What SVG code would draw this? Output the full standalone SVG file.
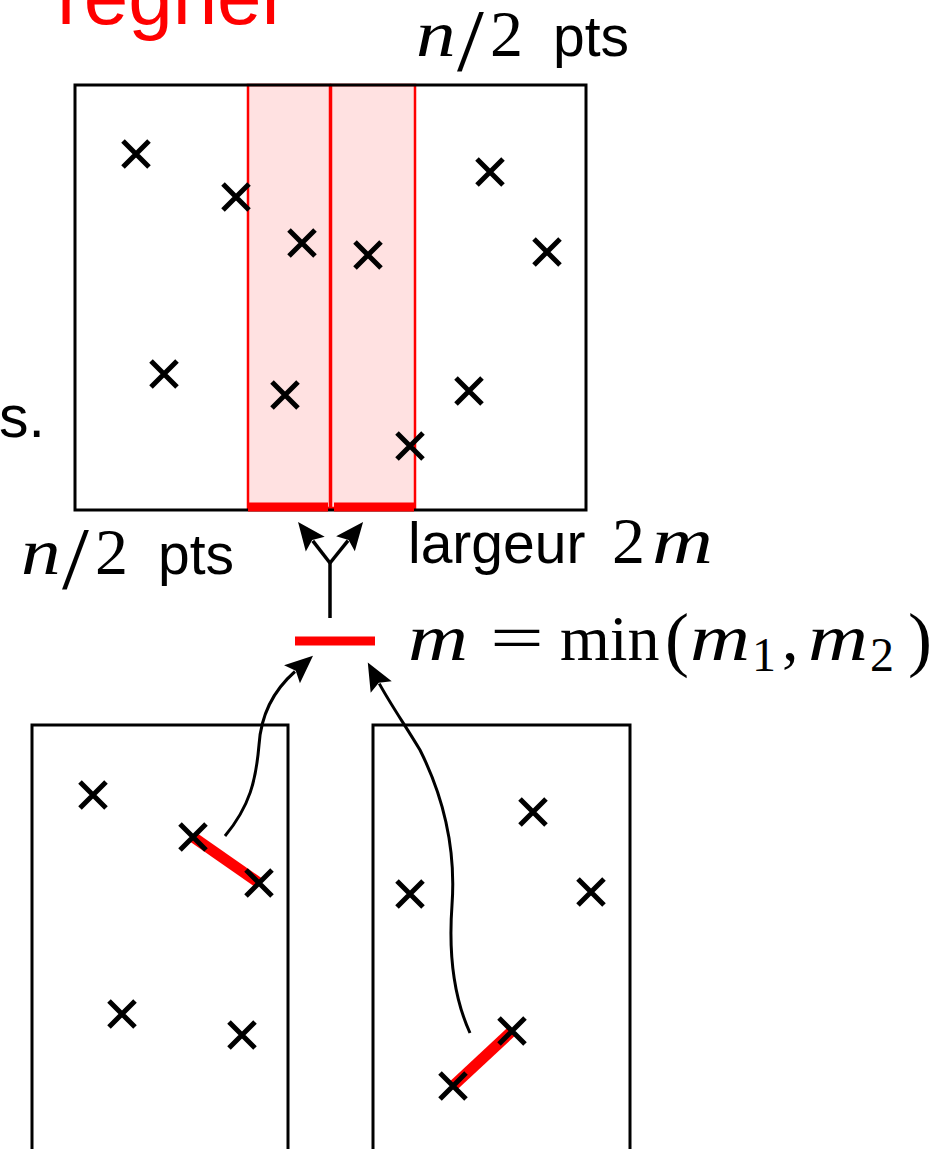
<svg xmlns="http://www.w3.org/2000/svg" width="939" height="1149" viewBox="0 0 939 1149">
<style>
.box{fill:none;stroke:#000;stroke-width:3}
.band{fill:#ffe1e1;stroke:#f00;stroke-width:2.5}
.bar{stroke:#f00;stroke-width:9;fill:none}
.pair{stroke:#f00;stroke-width:11;fill:none}
.cr{stroke:#000;stroke-width:5;fill:none}
.conn{stroke:#000;stroke-width:3;fill:none;marker-end:url(#ah)}
.sans{font-family:"Liberation Sans",Arial,sans-serif;font-size:57px;fill:#000}
.math{font-family:"Liberation Serif","Times New Roman",serif;font-size:66px;fill:#000}
.it{font-style:italic}
.sl{font-size:88px}
.sub{font-size:48px}
.par{font-size:72px}
.fn{font-size:64px}
.title{font-family:"Liberation Sans",Arial,sans-serif;font-size:80px;fill:#f00}
</style>
<defs>
<path id="x" d="M-13,-13L13,13M-13,13L13,-13"/>
<marker id="ah" markerUnits="userSpaceOnUse" viewBox="-6 -14 34 28" refX="0" refY="0" markerWidth="34" markerHeight="28" orient="auto">
<path d="M24,0 L-4,-12 L1,0 L-4,12 z" fill="#000"/>
</marker>
</defs>
<rect width="939" height="1149" fill="#fff"/>

<g id="title">
<text class="title" x="6" y="24" text-anchor="end">pour</text>
<text class="title" x="57" y="24">régner</text>
</g>

<g id="cut-text">
<text class="sans" x="-1" y="437" style="font-size:59px">s.</text>
</g>

<g id="top-set">
<rect class="band" x="248" y="85" width="82" height="423"/>
<rect class="band" x="331" y="85" width="84" height="423"/>
<rect class="box" x="75" y="85" width="511" height="425"/>
<line class="bar" x1="248" y1="507" x2="328" y2="507"/>
<line class="bar" x1="334" y1="507" x2="414" y2="507"/>
<g class="cr">
<use href="#x" x="136" y="154"/>
<use href="#x" x="236" y="197"/>
<use href="#x" x="302" y="243"/>
<use href="#x" x="368" y="255"/>
<use href="#x" x="490" y="172"/>
<use href="#x" x="547" y="252"/>
<use href="#x" x="164" y="374"/>
<use href="#x" x="285" y="395"/>
<use href="#x" x="469" y="391"/>
<use href="#x" x="410" y="446"/>
</g>
</g>

<g id="label-top">
<text class="math it" transform="translate(416,56) scale(1.2,1)">n</text>
<text class="math sl" transform="translate(457,70) scale(1.1,1)">/</text>
<text class="math" x="490" y="56">2</text>
<text class="sans" x="553" y="56">pts</text>
</g>

<g id="label-left">
<text class="math it" transform="translate(21,574) scale(1.2,1)">n</text>
<text class="math sl" transform="translate(62,588) scale(1.1,1)">/</text>
<text class="math" x="95" y="574">2</text>
<text class="sans" x="158" y="574">pts</text>
</g>

<g id="label-width">
<text class="sans" x="408" y="563">largeur</text>
<text class="math" x="612" y="563">2</text>
<text class="math it" transform="translate(652,563) scale(1.28,1)">m</text>
</g>

<g id="min-node">
<line class="bar" x1="295" y1="641" x2="375" y2="641"/>
<text class="math it" transform="translate(408,660) scale(1.26,1)">m</text>
<text class="math" transform="translate(490,660) scale(1.45,1)">=</text>
<text class="math fn" x="560" y="660">min</text>
<text class="math par" x="665" y="663">(</text>
<text class="math it" transform="translate(690,660) scale(1.26,1)">m</text>
<text class="math sub" x="752" y="671">1</text>
<text class="math" x="782" y="660">,</text>
<text class="math it" transform="translate(808,660) scale(1.26,1)">m</text>
<text class="math sub" x="870" y="671">2</text>
<text class="math par" x="908" y="663">)</text>
</g>

<g id="bottom-left">
<rect class="box" x="32" y="725" width="256" height="440"/>
<line class="pair" x1="193" y1="837" x2="259" y2="883"/>
<g class="cr">
<use href="#x" x="93" y="795"/>
<use href="#x" x="193" y="837"/>
<use href="#x" x="259" y="883"/>
<use href="#x" x="122" y="1014"/>
<use href="#x" x="242" y="1035"/>
</g>
</g>

<g id="bottom-right">
<rect class="box" x="373" y="725" width="257" height="440"/>
<line class="pair" x1="453" y1="1086" x2="512" y2="1031"/>
<g class="cr">
<use href="#x" x="533" y="812"/>
<use href="#x" x="410" y="894"/>
<use href="#x" x="591" y="892"/>
<use href="#x" x="512" y="1031"/>
<use href="#x" x="453" y="1086"/>
</g>
</g>

<g id="connectors">
<line x1="330" y1="618" x2="330" y2="562" stroke="#000" stroke-width="3.5"/>
<path class="conn" style="stroke-width:3.5" d="M330,563 L312.8,540.9"/>
<path class="conn" style="stroke-width:3.5" d="M330,563 L348,540.7"/>
<path class="conn" d="M225,836 C250,806 256,780 259,745 C261,714 274,690 295,671.5"/>
<path class="conn" d="M470,1033 C455,1000 448,960 452,905 C456,850 445,800 420,750 C405,725 391,705 379.3,683.6"/>
</g>
</svg>
